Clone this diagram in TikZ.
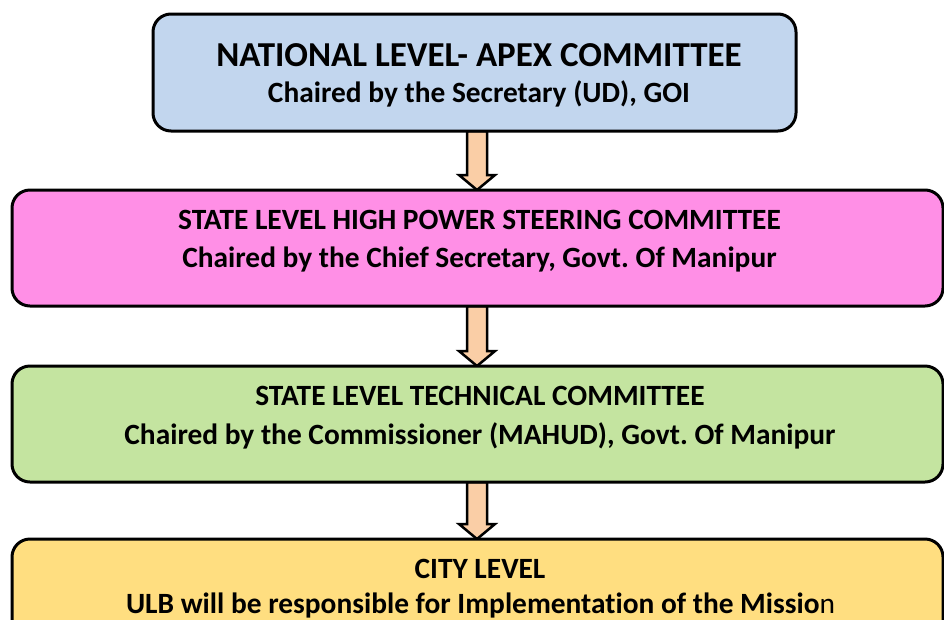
\documentclass[tikz,border=0pt]{standalone}
\usepackage{fontspec}
\setmainfont[Ligatures=NoCommon]{Carlito}
\frenchspacing
\usetikzlibrary{calc}
\definecolor{cblue}{RGB}{194,214,238}
\definecolor{cpink}{RGB}{255,143,230}
\definecolor{cgreen}{RGB}{196,228,160}
\definecolor{cyellow}{RGB}{255,222,128}
\definecolor{cpeach}{RGB}{250,206,166}
\tikzset{
  levelbox/.style={draw=black, line width=3pt, rounded corners=18pt, inner sep=0pt},
  blockarr/.style={draw=black, line width=2.5pt, fill=cpeach, line join=miter},
  headtxt/.style={inner sep=0pt, font=\bfseries\fontsize{29.4}{34}\selectfont},
  bigtxt/.style={inner sep=0pt, font=\bfseries\fontsize{35}{40}\selectfont},
}
\newcommand{\blockarrow}[2]{%
  \draw[blockarr] ($(#1)+(-10,0)$) -- ($(#2)+(-10,-15)$) -- ($(#2)+(-18,-15)$) -- (#2)
    -- ($(#2)+(18,-15)$) -- ($(#2)+(10,-15)$) -- ($(#1)+(10,0)$) -- cycle;}
\begin{document}
\begin{tikzpicture}[x=1pt,y=-1pt]
\useasboundingbox (0,0) rectangle (944,619);
\clip (0,0) rectangle (944,619);
\fill[white] (0,0) rectangle (944,619);
% box geometry
\path (153,14) coordinate (b1a) (796,131) coordinate (b1b);
\path (12,190) coordinate (b2a) (943,306) coordinate (b2b);
\path (12,366) coordinate (b3a) (943,482) coordinate (b3b);
\path (12,539) coordinate (b4a) (943,680) coordinate (b4b);
% connectors
\coordinate (t1) at (477,131); \coordinate (h1) at (477,190);
\coordinate (t2) at (477,306); \coordinate (h2) at (477,366);
\coordinate (t3) at (477,482); \coordinate (h3) at (477,539);
\blockarrow{t1}{h1}
\blockarrow{t2}{h2}
\blockarrow{t3}{h3}
% boxes
\draw[levelbox, fill=cblue] (b1a) rectangle (b1b);
\draw[levelbox, fill=cpink] (b2a) rectangle (b2b);
\draw[levelbox, fill=cgreen] (b3a) rectangle (b3b);
\draw[levelbox, fill=cyellow] (b4a) rectangle (b4b);
% texts
\node[bigtxt] (n1t) at (479,55) {NATIONAL LEVEL- APEX COMMITTEE};
\node[headtxt] (n1s) at (479,94) {Chaired by the Secretary (UD), GOI};
\node[headtxt] (n2t) at (479.5,220) {STATE LEVEL HIGH POWER STEERING COMMITTEE};
\node[headtxt] (n2s) at (479.5,259) {Chaired by the Chief Secretary, Govt. Of Manipur};
\node[headtxt] (n3t) at (480,396) {STATE LEVEL TECHNICAL COMMITTEE};
\node[headtxt] (n3s) at (480,436) {Chaired by the Commissioner (MAHUD), Govt. Of Manipur};
\node[headtxt] (n4t) at (480,569) {CITY LEVEL};
\node[headtxt] (n4s) at (480.5,605) {ULB will be responsible for Implementation of the Missio\mdseries n};
\end{tikzpicture}
\end{document}
